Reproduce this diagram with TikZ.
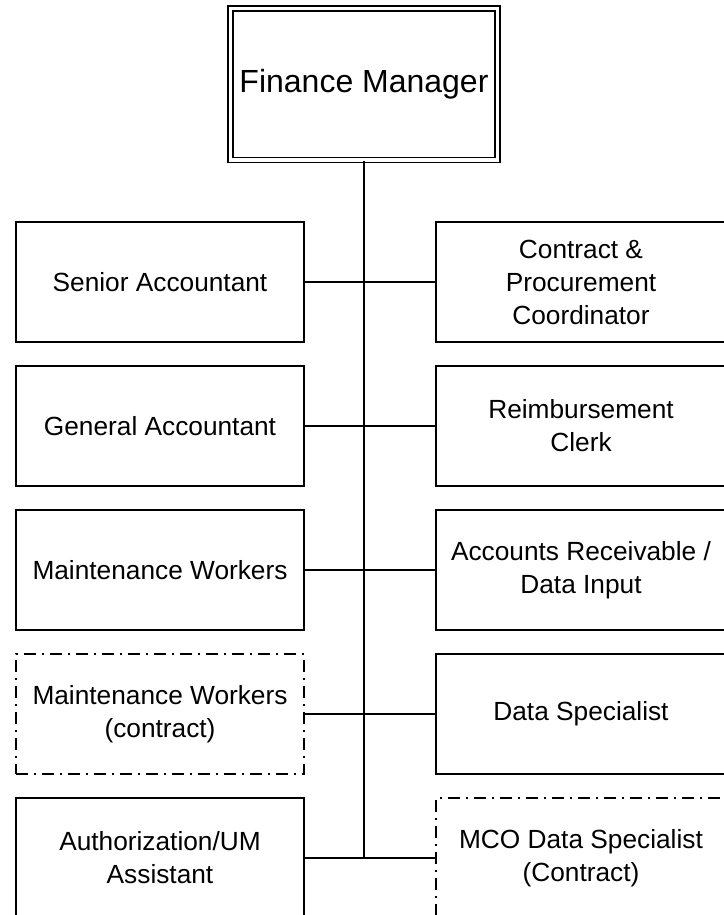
\documentclass[tikz,border=0pt]{standalone}
\usepackage{fontspec}
\setmainfont{Liberation Sans}
\begin{document}
\begin{tikzpicture}[x=0.75pt,y=-0.75pt,
  line width=1.3pt,
  lbox/.style={draw,rectangle,minimum width=216pt,minimum height=90pt,align=center,inner sep=0pt,
    font=\fontsize{19.7}{24.75}\selectfont},
  rbox/.style={lbox,minimum width=217.5pt},
  dashdot/.style={dash pattern=on 9pt off 4.5pt on 1.5pt off 4.5pt},
  conn/.style={draw,line width=1.3pt}]
\clip (0,0) rectangle (724,915);
\fill[white] (0,0) rectangle (724,915);
\node[draw,double,double distance=2.6pt,line width=1.1pt,minimum width=200.25pt,minimum height=113.6pt,
  font=\fontsize{24}{29}\selectfont] (fm) at (364,84.25) {Finance Manager};
% left column
\node[lbox] (sa) at (160,282) {Senior Accountant};
\node[lbox] (ga) at (160,426) {General Accountant};
\node[lbox] (mw) at (160,570) {Maintenance Workers};
\node[lbox,dashdot] (mc) at (160,714) {Maintenance Workers\\(contract)};
\node[lbox] (au) at (160,858) {Authorization/UM\\Assistant};
% right column
\node[rbox] (cp) at (581,282) {Contract \&\\Procurement\\Coordinator};
\node[rbox] (rc) at (581,426) {Reimbursement\\Clerk};
\node[rbox] (ar) at (581,570) {Accounts Receivable /\\Data Input};
\node[rbox] (ds) at (581,714) {Data Specialist};
\node[rbox,dashdot] (mco) at (581,858) {MCO Data Specialist\\(Contract)};
% trunk
\coordinate (tb) at (364,858);
\draw[conn] (fm.south) -- (tb);
\draw[conn] (sa.east) -- (cp.west);
\draw[conn] (ga.east) -- (rc.west);
\draw[conn] (mw.east) -- (ar.west);
\draw[conn] (mc.east) -- (ds.west);
\draw[conn] (au.east) -- (mco.west);
\end{tikzpicture}
\end{document}
